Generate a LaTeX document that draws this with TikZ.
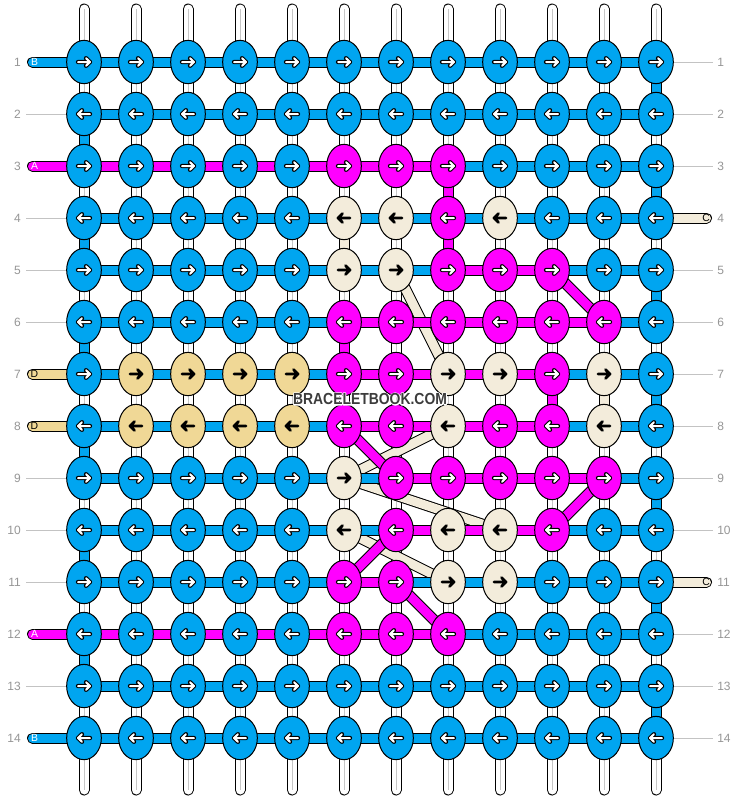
\documentclass[tikz,border=0pt]{standalone}
\usepackage{fontspec}
\setmainfont{Liberation Sans}
\setsansfont{Liberation Sans}
\usepackage{graphicx}
\usetikzlibrary{shapes.geometric}
\definecolor{kB}{RGB}{0,165,240}
\definecolor{kP}{RGB}{255,0,255}
\definecolor{kC}{RGB}{243,236,219}
\definecolor{kT}{RGB}{240,216,150}
\definecolor{lblc}{RGB}{150,150,150}
\definecolor{glinec}{RGB}{195,195,195}
\definecolor{wmc}{RGB}{60,60,60}
\tikzset{
 conn/.style={double=#1, double distance=6.75pt, line width=0.75pt},
 warp/.style={double=white, double distance=6.75pt, line width=0.75pt, line cap=round},
 knot/.style={ellipse, draw=black, line width=0.75pt, fill=#1, minimum width=26pt, minimum height=32.5pt, inner sep=0pt},
 lbl/.style={text=lblc, font=\fontsize{9}{10}\selectfont, inner sep=0pt},
 gl/.style={draw=glinec, line width=0.75pt},
 stubtxt/.style={font=\fontsize{7.8}{8}\selectfont, inner sep=0pt, text=#1},
 wmtext/.style={text=#1, inner sep=0pt},
}
\newcommand\wmstr{\scalebox{0.87}[1]{\fontsize{12}{12}\selectfont\bfseries BRACELETBOOK.COM}}
\newcommand\wmhalo{\rlap{\color{white}\special{pdf:literal direct 2 Tr 1.6 w 1 J 1 j}\wmstr\special{pdf:literal direct 0 Tr 1 w}}}
\newcommand\myarrW{%
 \draw[black,line width=3.2pt,line cap=round,line join=round] (-6,0)--(6,0) (2,-3.8)--(6,0)--(2,3.8);
 \draw[white,line width=1.5pt,line cap=round,line join=round] (-6,0)--(6,0) (2,-3.8)--(6,0)--(2,3.8);}
\newcommand\myarrK{%
 \draw[black,line width=2.1pt,line cap=round,line join=round] (-6,0)--(6,0) (1.5,-4.3)--(6,0)--(1.5,4.3);}
\def\selB{\myarrW}\def\selP{\myarrW}\def\selC{\myarrK}\def\selT{\myarrK}
\begin{document}
\begin{tikzpicture}[x=0.75pt,y=-0.75pt]
\useasboundingbox (0,0) rectangle (740,800);
\fill[white] (0,0) rectangle (740,800);
% grid coordinates
\foreach \r in {1,...,14}{
  \foreach \c in {1,...,12}{
    \coordinate (p-\r-\c) at ({84+52*(\c-1)},{62+52*(\r-1)});
  }
}
% warp strings
\foreach \c in {1,...,12}{
  \coordinate (wt-\c) at ({84+52*(\c-1)},9);
  \coordinate (wb-\c) at ({84+52*(\c-1)},790);
  \draw[warp] (wt-\c) -- (wb-\c);
  \draw[gray!45, line width=0.5pt] (wt-\c) -- (wb-\c);
}
% label lines left
\foreach \r in {2,4,5,6,9,10,11,13}{
  \coordinate (ll-\r) at (26,{62+52*(\r-1)});
  \draw[gl] (ll-\r) -- (p-\r-1);
}
% label lines right
\foreach \r in {1,2,3,5,6,7,8,9,10,12,13,14}{
  \coordinate (rl-\r) at (713,{62+52*(\r-1)});
  \draw[gl] (p-\r-12) -- (rl-\r);
}
% row numbers
\foreach \r in {1,...,14}{
  \node[lbl, anchor=east] (ln-\r) at (21,{62+52*(\r-1)}) {\r};
  \node[lbl, anchor=west] (rn-\r) at (717,{62+52*(\r-1)}) {\r};
}
% vertical coloured connectors
\foreach \r/\c/\col in {2/1/kB,4/1/kB,6/1/kB,8/1/kB,10/1/kB,12/1/kB,
  1/12/kB,3/12/kB,5/12/kB,7/12/kB,9/12/kB,11/12/kB,13/12/kB,
  3/8/kP,4/8/kP,4/6/kC,6/6/kP,7/10/kP,7/11/kC}{
  \pgfmathtruncatemacro\rr{\r+1}
  \draw[conn=\col] (p-\r-\c) -- (p-\rr-\c);
}
% diagonals (cream first, then pink)
\foreach \ra/\ca/\rb/\cb/\col in {5/7/7/8/kC, 8/8/9/6/kC, 9/6/10/9/kC, 10/6/11/8/kC,
  5/10/6/11/kP, 8/6/9/7/kP, 9/11/10/10/kP, 10/7/11/6/kP, 11/7/12/8/kP}{
  \draw[conn=\col] (p-\ra-\ca) -- (p-\rb-\cb);
}
% horizontal connectors
\foreach \r/\row in {
 1/{B,B,B,B,B,B,B,B,B,B,B},
 2/{B,B,B,B,B,B,B,B,B,B,B},
 3/{P,P,P,P,P,P,P,B,B,B,B},
 4/{B,B,B,B,B,B,B,B,B,B,B},
 5/{B,B,B,B,B,B,B,P,P,B,B},
 6/{B,B,B,B,B,P,P,P,P,P,B},
 7/{B,B,B,B,B,P,P,P,P,B,B},
 8/{B,B,B,B,B,P,P,P,P,B,B},
 9/{B,B,B,B,B,B,P,P,P,P,B},
 10/{B,B,B,B,B,B,P,P,P,B,B},
 11/{B,B,B,B,B,P,B,B,B,B,B},
 12/{P,P,P,P,P,P,P,B,B,B,B},
 13/{B,B,B,B,B,B,B,B,B,B,B},
 14/{B,B,B,B,B,B,B,B,B,B,B}}{
  \foreach \k [count=\c] in \row {
    \pgfmathtruncatemacro\cc{\c+1}
    \draw[conn=k\k] (p-\r-\c) -- (p-\r-\cc);
  }
}
% left stubs
\foreach \r/\col/\lt/\tc in {1/kB/B/white, 3/kP/A/white, 7/kT/D/black, 8/kT/D/black, 12/kP/A/white, 14/kB/B/white}{
  \coordinate (ls-\r) at (32.5,{62+52*(\r-1)});
  \draw[conn=\col, line cap=round] (ls-\r) -- (p-\r-1);
  \node[stubtxt=\tc] (lt-\r) at (34.5,{62+52*(\r-1)}) {\lt};
}
% right stubs
\foreach \r in {4,11}{
  \coordinate (rs-\r) at (706.5,{62+52*(\r-1)});
  \draw[conn=kC, line cap=round] (p-\r-12) -- (rs-\r);
  \node[stubtxt=black] (rt-\r) at (706,{62+52*(\r-1)}) {C};
}
% knots
\foreach \r/\row in {
 1/{B,B,B,B,B,B,B,B,B,B,B,B},
 2/{B,B,B,B,B,B,B,B,B,B,B,B},
 3/{B,B,B,B,B,P,P,P,B,B,B,B},
 4/{B,B,B,B,B,C,C,P,C,B,B,B},
 5/{B,B,B,B,B,C,C,P,P,P,B,B},
 6/{B,B,B,B,B,P,P,P,P,P,P,B},
 7/{B,T,T,T,T,P,P,C,C,P,C,B},
 8/{B,T,T,T,T,P,P,C,P,P,C,B},
 9/{B,B,B,B,B,C,P,P,P,P,P,B},
 10/{B,B,B,B,B,C,P,C,C,P,B,B},
 11/{B,B,B,B,B,P,P,C,C,B,B,B},
 12/{B,B,B,B,B,P,P,P,B,B,B,B},
 13/{B,B,B,B,B,B,B,B,B,B,B,B},
 14/{B,B,B,B,B,B,B,B,B,B,B,B}}{
  \pgfmathsetmacro\dir{mod(\r,2)==1 ? 1 : -1}
  \foreach \k [count=\c] in \row {
    \node[knot=k\k] (k-\r-\c) at (p-\r-\c) {};
    \begin{scope}[shift={(p-\r-\c)}, xscale=\dir]
      \csname sel\k\endcsname
    \end{scope}
  }
}
% watermark with white halo (one node)
\node[wmtext=wmc] (wm) at (370,399) {\wmhalo\wmstr};
\end{tikzpicture}
\end{document}
